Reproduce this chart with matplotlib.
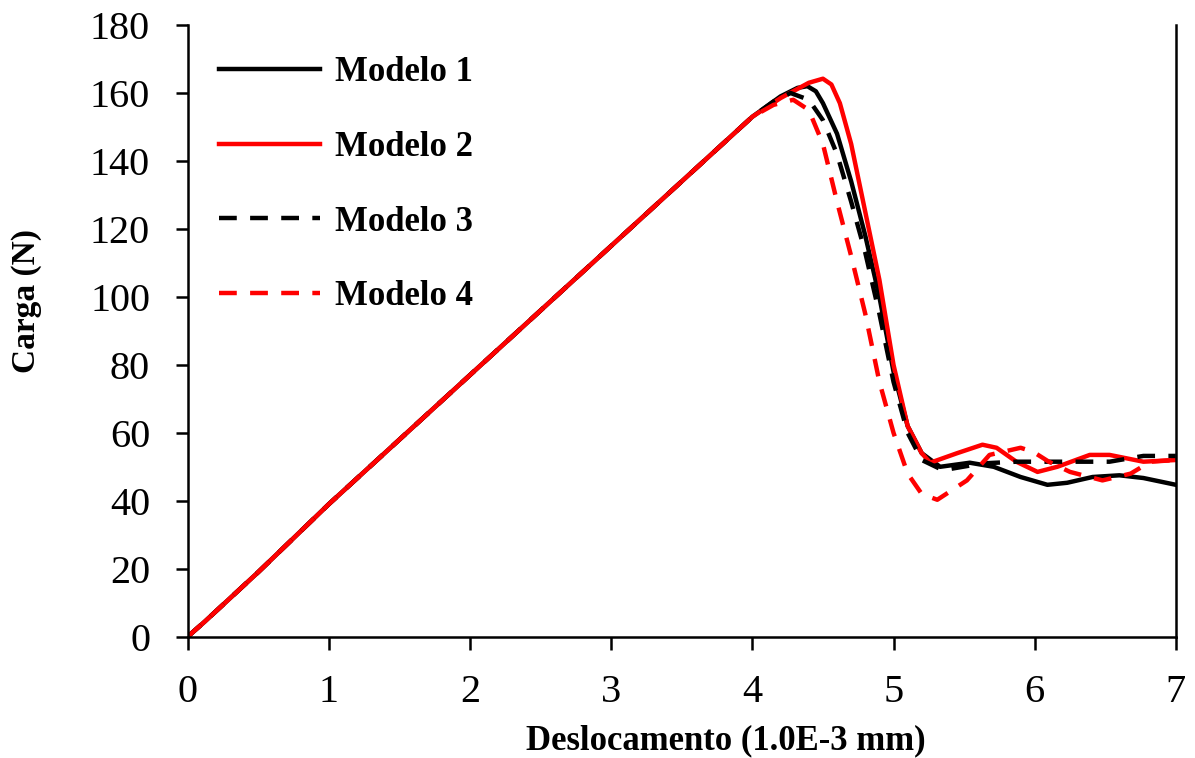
import numpy as np
import matplotlib
matplotlib.use('Agg')
import matplotlib.pyplot as plt

plt.rcParams['font.family'] = ['Liberation Serif', 'DejaVu Serif']

# Deslocamento (1.0E-3 mm) / Carga (N)
x_m1 = [0, 0.12, 0.5, 1.0, 1.5, 2.0, 2.5, 3.0, 3.5, 4.0, 4.2, 4.32, 4.39, 4.45, 4.5, 4.6, 4.7, 4.8,
        4.9, 5.0, 5.1, 5.2, 5.33, 5.54, 5.71, 5.9, 6.09, 6.23, 6.41, 6.6, 6.77, 7.0]
y_m1 = [0, 4.4, 19, 39, 58, 77, 96, 115, 134, 153, 159, 161.5, 162, 160.5, 157, 148, 134, 118,
        100, 78, 62, 54, 50, 51.2, 50, 47, 44.7, 45.3, 47, 47.5, 46.7, 44.7]

x_m2 = [0, 0.12, 0.5, 1.0, 1.5, 2.0, 2.5, 3.0, 3.5, 4.0, 4.2, 4.4, 4.5, 4.56, 4.62, 4.7, 4.8, 4.9,
        5.0, 5.1, 5.2, 5.26, 5.45, 5.63, 5.73, 5.87, 6.02, 6.16, 6.39, 6.53, 6.77, 7.0]
y_m2 = [0, 4.4, 19, 39, 58, 77, 96, 115, 134, 153, 158.5, 163, 164.2, 162.5, 157, 145, 125, 105,
        80, 62, 54, 51.2, 54, 56.5, 55.6, 51.5, 48.5, 50, 53.5, 53.5, 51.5, 52]

x_m3 = [0, 0.12, 0.5, 1.0, 1.5, 2.0, 2.5, 3.0, 3.5, 4.0, 4.15, 4.27, 4.4, 4.5, 4.6, 4.7, 4.8, 4.9,
        5.0, 5.1, 5.2, 5.35, 5.63, 5.87, 6.23, 6.53, 6.77, 7.0]
y_m3 = [0, 4.4, 19, 39, 58, 77, 96, 115, 134, 153, 157.5, 160, 158, 152, 142, 128, 113, 95,
        75, 60, 52, 49, 51, 51.5, 51.5, 51.5, 53.2, 53.2]

x_m4 = [0, 0.12, 0.5, 1.0, 1.5, 2.0, 2.5, 3.0, 3.5, 4.0, 4.15, 4.29, 4.4, 4.5, 4.6, 4.7, 4.8, 4.9,
        5.0, 5.1, 5.2, 5.31, 5.52, 5.68, 5.9, 5.99, 6.1, 6.25, 6.48, 6.68, 6.82, 7.0]
y_m4 = [0, 4.4, 19, 39, 58, 77, 96, 115, 134, 153, 156.5, 158, 155, 145, 128, 112, 95, 75,
        60, 48, 42, 40.3, 46, 53.5, 55.6, 54.4, 51.5, 48.5, 46, 48, 51.5, 52]

fig = plt.figure(figsize=(11.95, 7.58), dpi=100)
ax = fig.add_axes([0.157, 0.160, 0.827, 0.807])

lw = 3.2
ax.plot(x_m1, y_m1, color='black', lw=lw, label='Modelo 1')
ax.plot(x_m2, y_m2, color='#ff0000', lw=lw, label='Modelo 2')
ax.plot(x_m3, y_m3, color='black', lw=lw, ls=(0, (4, 3)), label='Modelo 3')
ax.plot(x_m4, y_m4, color='#ff0000', lw=lw, ls=(0, (4, 3)), label='Modelo 4')

ax.set_xlim(0, 7)
ax.set_ylim(0, 180)
ax.set_xticks(range(0, 8))
ax.set_yticks(range(0, 181, 20))
ax.spines['top'].set_visible(False)
for s in ['left', 'bottom', 'right']:
    ax.spines[s].set_linewidth(1.8)
ax.tick_params(axis='both', direction='out', length=9, width=1.8, labelsize=29)
ax.tick_params(axis='x', pad=18)
ax.tick_params(axis='y', pad=18)

ax.set_xlabel('Deslocamento (1.0E-3 mm)', fontsize=25, fontweight='bold')
ax.set_ylabel('Carga (N)', fontsize=24, fontweight='bold')
ax.xaxis.set_label_coords(0.545, -0.143)
ax.yaxis.set_label_coords(-0.147, 0.549)

leg = ax.legend(loc='upper left', bbox_to_anchor=(0.0, 1.0), frameon=False,
                prop={'size': 25, 'weight': 'bold'}, handlelength=2.9,
                labelspacing=1.2, handletextpad=0.45, borderaxespad=0.5)

fig.savefig('out.png', dpi=100)
